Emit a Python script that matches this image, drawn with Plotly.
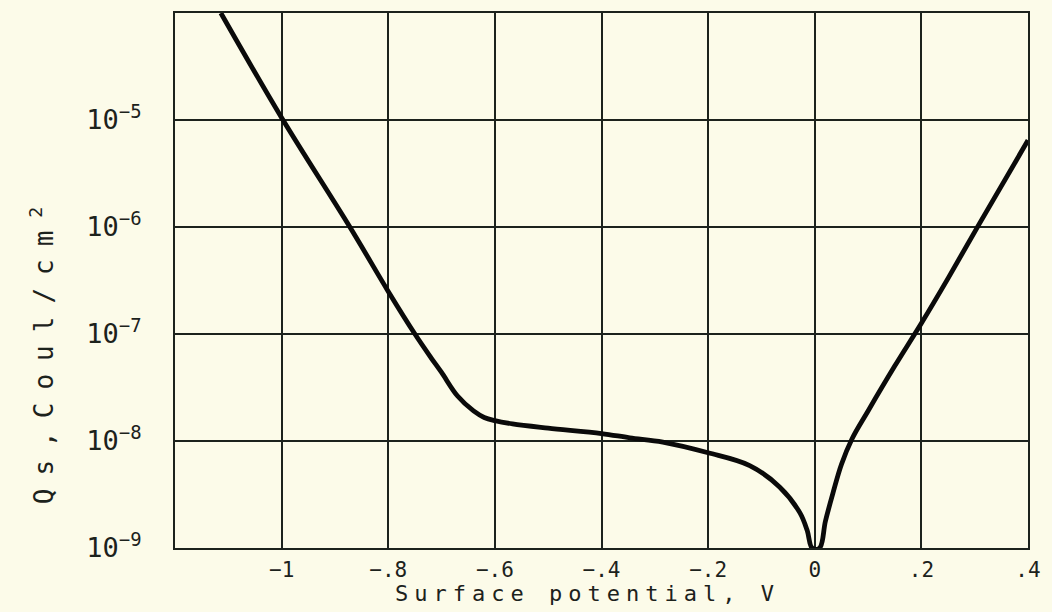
import plotly.graph_objects as go

# Surface potential (V) and surface charge Qs (Coul/cm^2)
potential = [-1.114, -1.0, -0.872, -0.8, -0.75, -0.72, -0.70, -0.67, -0.64, -0.62, -0.6,
             -0.567, -0.5, -0.4, -0.347, -0.285, -0.2, -0.122, -0.066, -0.028, -0.014, -0.005,
             0.009, 0.02, 0.034, 0.05, 0.07, 0.1, 0.15, 0.2, 0.25, 0.31, 0.4]
charge = [1.0e-4, 1.05e-5, 1.0e-6, 2.5e-7, 1.0e-7, 6.03e-8, 4.37e-8, 2.63e-8, 1.91e-8, 1.66e-8, 1.55e-8,
          1.445e-8, 1.32e-8, 1.175e-8, 1.07e-8, 9.77e-9, 7.76e-9, 5.89e-9, 3.72e-9, 2.14e-9, 1.45e-9, 1.0e-9,
          1.0e-9, 1.78e-9, 3.24e-9, 6.03e-9, 1.05e-8, 1.91e-8, 5.01e-8, 1.26e-7, 3.31e-7, 1.1e-6, 6.46e-6]

x_tickvals = [-1.0, -0.8, -0.6, -0.4, -0.2, 0.0, 0.2, 0.4]
x_ticktext = ["−1", "−.8", "−.6", "−.4", "−.2", "0", ".2", ".4"]
y_tickvals = [1e-9, 1e-8, 1e-7, 1e-6, 1e-5]
y_ticktext = ["10<sup>−9</sup>", "10<sup>−8</sup>", "10<sup>−7</sup>", "10<sup>−6</sup>", "10<sup>−5</sup>"]

BG = "#fcfbe9"
INK = "#1c221c"
FONT = "DejaVu Sans Mono"

def spaced(t, px):
    return '<span style="letter-spacing:%dpx">%s</span>' % (px, t)

fig = go.Figure()
fig.add_trace(go.Scatter(
    x=potential, y=charge, mode="lines",
    line=dict(color="#0a0a0a", width=4.8, shape="spline", smoothing=1.0),
    showlegend=False, hoverinfo="skip",
))

fig.update_layout(
    width=1052, height=612,
    margin=dict(l=175, r=24, t=11, b=64),
    paper_bgcolor=BG, plot_bgcolor=BG,
    font=dict(family=FONT, color=INK, size=20),
    xaxis=dict(
        range=[-1.2, 0.4], tickvals=x_tickvals, ticktext=x_ticktext,
        showgrid=True, gridcolor=INK, gridwidth=1.6,
        showline=True, linecolor=INK, linewidth=2, mirror=True,
        zeroline=False, ticks="", ticklabelstandoff=2,
        tickfont=dict(family=FONT, size=21, color=INK),
    ),
    yaxis=dict(
        type="log", range=[-9, -4], tickvals=y_tickvals, ticktext=y_ticktext,
        showgrid=True, gridcolor=INK, gridwidth=1.6,
        showline=True, linecolor=INK, linewidth=2, mirror=True,
        zeroline=False, ticks="", ticklabelstandoff=26,
        tickfont=dict(family=FONT, size=27, color=INK),
    ),
    annotations=[
        dict(
            text=spaced("Surface potential, V", 6),
            xref="paper", yref="paper", x=0.484, y=-0.113, xanchor="center", yanchor="bottom",
            showarrow=False, font=dict(family=FONT, size=22, color=INK),
        ),
        dict(
            text=spaced("Qs,Coul/cm", 13) + "<sup>2</sup>",
            xref="paper", yref="paper", x=-0.155, y=0.36, xanchor="center", yanchor="middle",
            textangle=-90, showarrow=False, font=dict(family=FONT, size=26, color=INK),
        ),
    ],
)

fig.write_html("out.html")
